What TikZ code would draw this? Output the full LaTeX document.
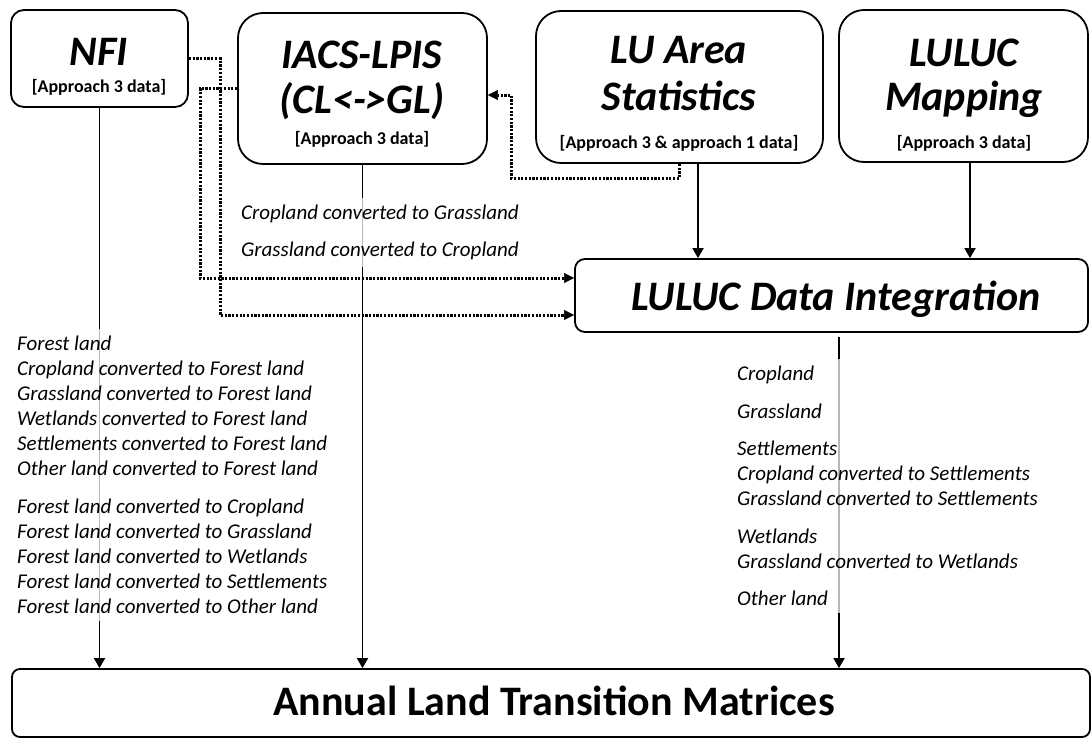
\documentclass[tikz,border=0pt]{standalone}
\usepackage{fontspec}
\setmainfont{Carlito}
\usetikzlibrary{arrows.meta,calc}

\begin{document}
\begin{tikzpicture}[x=1pt,y=-1pt,
  srcbox/.style={draw, line width=1.8pt, rounded corners=#1, inner sep=0pt},
  srcbox/.default=25pt,
  ttl/.style={font=\fontsize{42}{48}\selectfont\bfseries\itshape, inner sep=0pt, text height=27pt, text depth=0pt},
  anl/.style={font=\fontsize{42}{48}\selectfont\bfseries, inner sep=0pt, text height=27pt, text depth=0pt},
  brk/.style={font=\fontsize{18}{21}\selectfont\bfseries, inner sep=0pt, text height=11.6pt, text depth=0pt},
  lst/.style={font=\fontsize{21}{25}\selectfont\itshape, align=left, fill=white, fill opacity=0.72, text opacity=1, inner xsep=3pt, inner ysep=7pt},
  conn/.style={line width=1.8pt, -{Triangle[length=10pt,width=11pt]}},
  dotconn/.style={line width=3pt, dash pattern=on 2.2pt off 1.5pt, -{Triangle[length=10pt,width=10pt,line width=0.5pt]}},
]
\fill[white] (0,0) rectangle (1091,739);
\useasboundingbox (0,0) rectangle (1091,739);

% data sources
\node[srcbox=13pt, minimum width=177pt, minimum height=97pt] (nfi) at (99.5,58.5) {};
\node[srcbox, minimum width=249pt, minimum height=151pt] (iacs) at (362.5,88.5) {};
\node[srcbox, minimum width=287pt, minimum height=152pt] (lu) at (679.5,87) {};
\node[srcbox, minimum width=249pt, minimum height=152pt] (map) at (963.5,86) {};

% integration and result
\node[srcbox=10pt, minimum width=513pt, minimum height=73pt] (di) at (831.5,295.5) {};
\node[srcbox=8pt, minimum width=1078pt, minimum height=68pt] (annual) at (551,703) {};

% box titles
\node[ttl] (nfi-t) at (99,52) {NFI};
\node[brk] (nfi-b) at (99,87) {[Approach 3 data]};
\node[ttl] (iacs-t1) at (362,55) {IACS-LPIS};
\node[ttl] (iacs-t2) at (362,100) {(CL<->GL)};
\node[brk] (iacs-b) at (362,139) {[Approach 3 data]};
\node[ttl] (lu-t1) at (679,50) {LU Area};
\node[ttl] (lu-t2) at (679,97) {Statistics};
\node[brk] (lu-b) at (679,143) {[Approach 3 \& approach 1 data]};
\node[ttl] (map-t1) at (964,53) {LULUC};
\node[ttl] (map-t2) at (964,97) {Mapping};
\node[brk] (map-b) at (964,143) {[Approach 3 data]};
\node[ttl] (di-t) at (836,297) {LULUC Data Integration};
\node[anl] (annual-t) at (554,702) {Annual Land Transition Matrices};

% solid flows
\draw[conn] (nfi.south) -- (nfi.south |- annual.north);
\draw[conn] (iacs.south) -- (iacs.south |- annual.north);
\draw[conn] ([xshift=7.5pt,yshift=-4pt]di.south) -- ([xshift=7.5pt]di.south |- annual.north);
\draw[conn] ([xshift=18.5pt]lu.south) -- ([xshift=18.5pt]lu.south |- di.north);
\draw[conn] ([xshift=6.5pt]map.south) -- ([xshift=6.5pt]map.south |- di.north);

% dotted flows
\coordinate (lubend) at (511,178);
\coordinate (nfibend) at (220,315);
\coordinate (iacsbend) at (200,278);
\draw[dotconn] (lu.south) |- (lubend) |- ([yshift=-6.5pt]iacs.east);
\draw[dotconn] (nfi.east) -| (nfibend) -- ([yshift=-19.5pt]di.west);
\draw[dotconn] (iacs.west) -| (iacsbend) -- ([yshift=17.5pt]di.west);

% category lists
\node[lst, anchor=north west] (iacs-l) at (238,198) {Cropland converted to Grassland\\[12pt]
  Grassland converted to Cropland};
\node[lst, anchor=north west] (nfi-l) at (14,329) {Forest land\\
  Cropland converted to Forest land\\
  Grassland converted to Forest land\\
  Wetlands converted to Forest land\\
  Settlements converted to Forest land\\
  Other land converted to Forest land\\[13pt]
  Forest land converted to Cropland\\
  Forest land converted to Grassland\\
  Forest land converted to Wetlands\\
  Forest land converted to Settlements\\
  Forest land converted to Other land};
\node[lst, anchor=north west] (di-l) at (734,359) {Cropland\\[12.5pt]
  Grassland\\[12.5pt]
  Settlements\\
  Cropland converted to Settlements\\
  Grassland converted to Settlements\\[12.5pt]
  Wetlands\\
  Grassland converted to Wetlands\\[12.5pt]
  Other land};
\end{tikzpicture}
\end{document}
